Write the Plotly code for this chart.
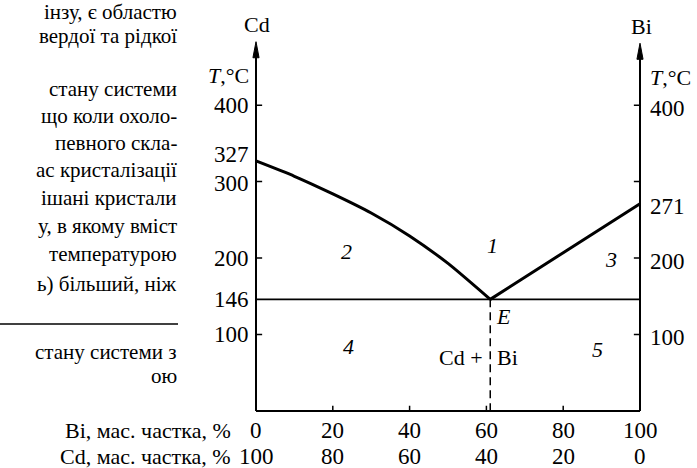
import plotly.graph_objects as go

# ---- data ----
cd_liq_x = [0, 10, 20, 30, 40, 50, 61]
cd_liq_T = [327, 307, 284, 259, 229, 193, 146]
bi_liq_x = [61, 80, 100]
bi_liq_T = [146, 207, 271]
eutectic_x = 61
eutectic_T = 146
bi_ticks = [0, 20, 40, 60, 80, 100]
bi_labels = ["0", "20", "40", "60", "80", "100"]
cd_labels = ["100", "80", "60", "40", "20", "0"]
left_T_vals = [400, 327, 300, 200, 146, 100]
right_T_vals = [400, 271, 200, 100]
T_ticks = [100, 200, 300, 400]
regions = [("2", 23.5, 208), ("1", 61.5, 216), ("3", 92.5, 198), ("4", 24, 85), ("5", 89, 81)]
para_lines = [("інзу, є областю", 12), ("вердої та рідкої", 36),
              ("стану системи", 89), ("що коли охоло-", 116), ("певного скла-", 143),
              ("ас кристалізації", 170), ("ішані кристали", 198), ("у, в якому вміст", 226),
              ("температурою", 254), ("ь) більший, ніж", 284),
              ("стану системи з", 352), ("ою", 376)]

W, H = 697, 468
FONT = "Liberation Serif"
FS = 22
FSN = 23
FSP = 21

# pixel mapping
X0PX, XPPU = 256.0, 3.84
Y0PX, YPPU = 411.0, 0.7646
xr = [-5, 105]
yr = [-5, 490]
xdom = [(X0PX + xr[0] * XPPU) / W, (X0PX + xr[1] * XPPU) / W]
ydom = [(H - (Y0PX - yr[0] * YPPU)) / H, (H - (Y0PX - yr[1] * YPPU)) / H]

def py_of(T):
    return Y0PX - T * YPPU

def px_of(x):
    return X0PX + x * XPPU

fig = go.Figure()
fig.add_trace(go.Scatter(x=cd_liq_x, y=cd_liq_T, mode="lines",
                         line=dict(color="black", width=3, shape="spline", smoothing=0.6),
                         hoverinfo="skip", showlegend=False))
fig.add_trace(go.Scatter(x=bi_liq_x, y=bi_liq_T, mode="lines",
                         line=dict(color="black", width=3, shape="spline", smoothing=0.5),
                         hoverinfo="skip", showlegend=False))
fig.add_trace(go.Scatter(x=[0, 100], y=[eutectic_T, eutectic_T], mode="lines",
                         line=dict(color="black", width=1.8), hoverinfo="skip", showlegend=False))
fig.add_trace(go.Scatter(x=[eutectic_x, eutectic_x], y=[eutectic_T, 0], mode="lines",
                         line=dict(color="black", width=1.5, dash="8px,5px"),
                         hoverinfo="skip", showlegend=False))

shapes = []
# axes
shapes.append(dict(type="line", xref="x", yref="y", x0=0, x1=0, y0=0, y1=470, line=dict(color="black", width=2)))
shapes.append(dict(type="line", xref="x", yref="y", x0=100, x1=100, y0=0, y1=468, line=dict(color="black", width=2)))
shapes.append(dict(type="line", xref="x", yref="y", x0=0, x1=100, y0=0, y1=0, line=dict(color="black", width=2)))
# arrow heads
for ax, top in [(0, 483), (100, 481)]:
    shapes.append(dict(type="path", xref="x", yref="y",
                       path=f"M {ax-0.8},{top-21} L {ax},{top} L {ax+0.8},{top-21} Z",
                       fillcolor="black", line=dict(color="black", width=1)))
# ticks
for t in T_ticks:
    shapes.append(dict(type="line", xref="x", yref="y", x0=0, x1=1.6, y0=t, y1=t, line=dict(color="black", width=1.5)))
    shapes.append(dict(type="line", xref="x", yref="y", x0=98.4, x1=100, y0=t, y1=t, line=dict(color="black", width=1.5)))
for b in bi_ticks[1:-1]:
    shapes.append(dict(type="line", xref="x", yref="y", x0=b, x1=b, y0=0, y1=7, line=dict(color="black", width=1.5)))
# rule under paragraph
shapes.append(dict(type="line", xref="paper", yref="paper", x0=0, x1=178 / W, y0=1 - 324 / H, y1=1 - 324 / H,
                   line=dict(color="black", width=1.5)))

ann = []
def a(text, x, y, xanchor="center", yanchor="middle", italic=False, size=FS):
    ann.append(dict(text=text, x=x, y=y, xref="paper", yref="paper", xanchor=xanchor, yanchor=yanchor,
                    showarrow=False, font=dict(family=FONT, size=size, color="black",
                                               style="italic" if italic else "normal")))

def P(px, py):
    return px / W, 1 - py / H

for v in left_T_vals:
    dy = -6 if v == 327 else (2 if v == 300 else 0)
    a(str(v), *P(px_of(-1.4), py_of(v) + dy), xanchor="right", size=FSN)
for v in right_T_vals:
    a(str(v), *P(px_of(102.2), py_of(v) + 3), xanchor="left", size=FSN)
a("<i>T</i>,°C", *P(px_of(-1.2), 75), xanchor="right")
a("<i>T</i>,°C", *P(px_of(102.2), 78), xanchor="left")
a("Cd", *P(px_of(0.3), 24))
a("Bi", *P(px_of(100.3), 26))
for b, lb, lc in zip(bi_ticks, bi_labels, cd_labels):
    a(lb, *P(px_of(b), 430), size=FSN)
    a(lc, *P(px_of(b), 456), size=FSN)
a("Bi, мас. частка, %", *P(233, 430), xanchor="right")
a("Cd, мас. частка, %", *P(233, 456), xanchor="right")
for txt, x, y in regions:
    a(txt, *P(px_of(x), py_of(y)), italic=True)
a("E", *P(px_of(64.5), py_of(124)), italic=True)
a("Cd +", *P(px_of(59.6), py_of(70)), xanchor="right")
a("Bi", *P(px_of(62.2), py_of(70)), xanchor="left")
for txt, py in para_lines:
    a(txt, *P(179, py), xanchor="right", size=FSP)

fig.update_layout(
    width=W, height=H, margin=dict(l=0, r=0, t=0, b=0),
    paper_bgcolor="white", plot_bgcolor="white",
    xaxis=dict(domain=xdom, range=xr, visible=False, fixedrange=True),
    yaxis=dict(domain=ydom, range=yr, visible=False, fixedrange=True),
    shapes=shapes, annotations=ann, showlegend=False,
)
fig.write_html("out.html", config={"displayModeBar": False},
               post_script="document.body.style.margin='0';document.body.style.padding='0';")
